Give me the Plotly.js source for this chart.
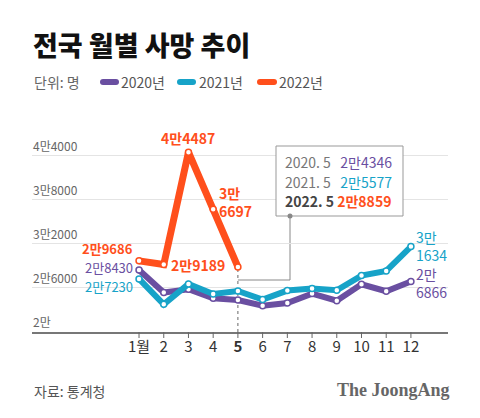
<!DOCTYPE html>
<html>
<head>
<meta charset="utf-8">
<script src="https://cdn.plot.ly/plotly-3.0.1.min.js"></script>
<style>
html,body{margin:0;padding:0;background:#fff;}
#chart{width:480px;height:418px;}
</style>
</head>
<body>
<div id="chart"></div>
<script>
// ---- data ----
const months = [1,2,3,4,5,6,7,8,9,10,11,12];
const monthLabels = ['1월','2','3','4','<b>5</b>','6','7','8','9','10','11','12'];
const seriesNames = ['2020년','2021년','2022년'];
const deaths2020 = [28430,25380,25820,24600,24346,23590,23950,25230,24270,26500,25550,26866];
const deaths2021 = [27230,23770,26550,25180,25577,24410,25640,25910,25680,27680,28320,31634];
const months2022 = [1,2,3,4,5];
const deaths2022 = [29686,29189,44487,36697,28859];
const yTickVals = [20000,26000,32000,38000,44000];
const yTickText = ['2만','2만6000','3만2000','3만8000','4만4000'];
const tipLabels = ['2020. 5','2021. 5','2022. 5'];
const tipValues = ['2만4346','2만5577','2만8859'];

// ---- style ----
const C = ['#6a4fa1','#17a3c8','#ff4f1c'];
const FONT = '"Noto Sans CJK KR", "Noto Sans", sans-serif';
const W = 480, H = 418, L = 32, R = 32, T = 130, B = 86;
const xRange = [-3.33, 13.5], yRange = [20000, 47500];
const pw = W - L - R, ph = H - T - B;
const px = v => (v - L) / pw;          // pixel x -> paper
const py = v => (H - B - v) / ph;      // pixel y -> paper
const dx = x => (x - xRange[0]) / (xRange[1] - xRange[0]); // data x -> paper
const man = v => Math.floor(v/10000) + '만';
const rest = v => (v % 10000) ? String(v % 10000) : '';
const span = (t,c) => '<span style="color:'+c+'">'+t+'</span>';

function tr(x, y, color, width){
  return {x:x, y:y, type:'scatter', mode:'lines+markers', showlegend:false, hoverinfo:'skip',
    line:{color:color, width:width},
    marker:{size:6, color:'#fff', line:{color:color, width:1.5}}};
}
const traces = [
  tr(months, deaths2020, C[0], 6),
  tr(months, deaths2021, C[1], 6),
  tr(months2022, deaths2022, C[2], 7)
];

const ann = [];
// y tick labels above gridlines
yTickVals.forEach((v,i)=>{
  ann.push({xref:'paper', yref:'y', x:0, y:v, xanchor:'left', yanchor:'bottom', yshift:1, borderpad:0,
    text:yTickText[i], showarrow:false, font:{family:FONT, size:12, color:'#666'}});
});
// unit + legend
ann.push({xref:'paper', yref:'paper', x:px(32), y:py(82), xanchor:'left', yanchor:'middle',
  text:'단위: 명', showarrow:false, font:{family:FONT, size:14, color:'#666'}});
const legX = [119, 197, 277];
const swX = [[103,116],[180,193],[260,274]];
const shapes = [];
seriesNames.forEach((n,i)=>{
  ann.push({xref:'paper', yref:'paper', x:px(legX[i]), y:py(82), xanchor:'left', yanchor:'middle',
    text:n, showarrow:false, font:{family:FONT, size:14, color:'#555'}});
  shapes.push({type:'line', xref:'paper', yref:'paper', x0:px(swX[i][0]), x1:px(swX[i][1]),
    y0:py(82), y1:py(82), line:{color:C[i], width:6}});
  [swX[i][0], swX[i][1]].forEach(e=>{
    shapes.push({type:'circle', xref:'paper', yref:'paper', x0:px(e-3), x1:px(e+3), y0:py(85), y1:py(79),
      fillcolor:C[i], line:{width:0}});
  });
});
// x tick marks below the axis line
months.forEach(m=>{
  shapes.push({type:'line', xref:'x', yref:'paper', x0:m, x1:m, y0:0, y1:-6/ph,
    line:{color:'#666', width:1}, layer:'above'});
});
// data labels
const lab = (x,y,text,color,bold,xa,xs,ys,ya,fs,al)=>({xref:'x', yref:'y', x:x, y:y, text: bold?'<b>'+text+'</b>':text,
  showarrow:false, xanchor:xa, yanchor:ya||'middle', xshift:xs, yshift:ys, borderpad:0, align:al||'left',
  font:{family:FONT, size:fs||14, color:color}});
const full = v => man(v) + rest(v);
const two = v => man(v) + '<br>' + rest(v);
// January labels
ann.push(lab(1, deaths2022[0], full(deaths2022[0]), C[2], true, 'right',-5,12,'middle',13));
ann.push(lab(1, deaths2020[0], full(deaths2020[0]), C[0], false,'right',-5,2.5,'middle',13));
ann.push(lab(1, deaths2021[0], full(deaths2021[0]), C[1], false,'right',-5,-7.5,'middle',13));
ann.push(lab(2, deaths2022[1], full(deaths2022[1]), C[2], true, 'left',6,0));
ann.push(lab(3, deaths2022[2], full(deaths2022[2]), C[2], true, 'center',0,3,'bottom'));
ann.push(lab(4, deaths2022[3], two(deaths2022[3]), C[2], true, 'left',5,7));
ann.push(lab(12, deaths2021[11], two(deaths2021[11]), C[1], false,'left',4,1));
ann.push(lab(12, deaths2020[11], two(deaths2020[11]), C[0], false,'left',4,-1));
// tooltip box text
const tipColors = [C[0], C[1], C[2]];
const tipY = [162, 182, 201];
tipLabels.forEach((t,i)=>{
  const bold = i===2;
  let txt = span(t, bold?'#444':'#777')+(bold?'\u00a0':'\u00a0\u00a0\u00a0')+span(tipValues[i], tipColors[i]);
  if(bold) txt = '<b>'+txt+'</b>';
  ann.push({xref:'paper', yref:'paper', x:px(284), y:py(tipY[i]), xanchor:'left', yanchor:'middle', borderpad:0,
    text:txt, showarrow:false, font:{family:FONT, size:14, color:'#777'}});
});
// footer
ann.push({xref:'paper', yref:'paper', x:px(32), y:py(391), xanchor:'left', yanchor:'middle',
  text:'자료: 통계청', showarrow:false, font:{family:FONT, size:14, color:'#555'}});
ann.push({xref:'paper', yref:'paper', x:px(452), y:py(390), xanchor:'right', yanchor:'middle',
  text:'<b>The JoongAng</b>', showarrow:false, font:{family:'"Liberation Serif", "DejaVu Serif", serif', size:18, color:'#666'}});

// shapes: dashed guide, tooltip box, connector
shapes.push({type:'line', xref:'x', yref:'y', x0:5, x1:5, y0:yRange[0], y1:deaths2022[4],
  line:{color:'#666', width:1, dash:'dot'}, layer:'below'});
shapes.push({type:'rect', xref:'paper', yref:'paper', x0:px(276), x1:px(403), y0:py(216), y1:py(146),
  line:{color:'#999', width:1}, fillcolor:'#fff', layer:'above'});
shapes.push({type:'path', xref:'paper', yref:'paper',
  path:'M '+px(290)+' '+py(216)+' L '+px(290)+' '+py(280)+' L '+dx(5)+' '+py(280),
  line:{color:'#888', width:1}, layer:'below'});
shapes.push({type:'circle', xref:'paper', yref:'paper', x0:px(287.5), x1:px(292.5), y0:py(218.5), y1:py(213.5),
  fillcolor:'#888', line:{width:0}, layer:'above'});

const layout = {
  width:W, height:H, margin:{l:L, r:R, t:T, b:B},
  paper_bgcolor:'#fff', plot_bgcolor:'#fff',
  title:{text:'전국 월별 사망 추이', xref:'container', yref:'container', x:33/W, xanchor:'left',
    y:1-47/H, yanchor:'middle', font:{family:FONT, size:27, color:'#111', weight:900}},
  xaxis:{range:xRange, tickvals:months, ticktext:monthLabels, showgrid:false, zeroline:false,
    showline:true, linecolor:'#777', linewidth:2, ticks:'',
    tickfont:{family:FONT, size:15, color:'#333'}, fixedrange:true},
  yaxis:{range:yRange, tickvals:yTickVals.slice(1), showticklabels:false, showgrid:true, gridcolor:'#e4e4e4',
    gridwidth:1, zeroline:false, showline:false, ticks:'', fixedrange:true},
  annotations:ann, shapes:shapes, showlegend:false
};
Plotly.newPlot('chart', traces, layout, {displayModeBar:false, staticPlot:true});
</script>
</body>
</html>
